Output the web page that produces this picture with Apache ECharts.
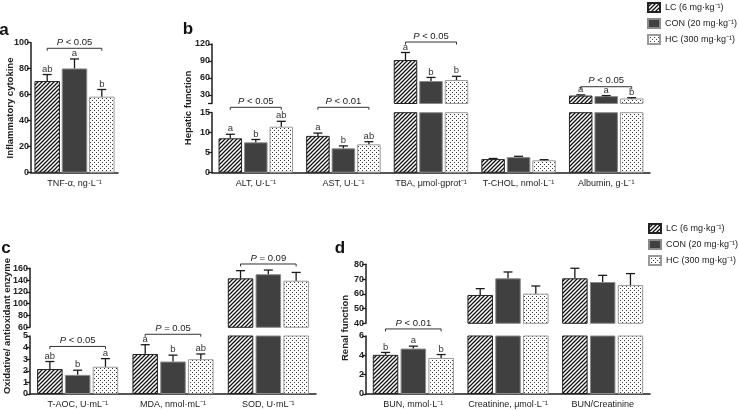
<!DOCTYPE html>
<html><head><meta charset="utf-8">
<script src="https://cdn.jsdelivr.net/npm/echarts@6/dist/echarts.min.js"></script>
<style>html,body{margin:0;padding:0;background:#fff}#c{width:739px;height:411px}</style>
</head><body><div id="c"></div>
<script>
// ---------------- DATA ----------------
const groupNames = ['LC (6 mg·kg⁻¹)', 'CON (20 mg·kg⁻¹)', 'HC (300 mg·kg⁻¹)'];

// Panel a – Inflammatory cytokine
const catsA = ['TNF-α, ng·L⁻¹'];
const lcA = [70.5], conA = [80.2], hcA = [58.5];
const lcSdA = [5.0], conSdA = [7.3], hcSdA = [5.5];
const lcLetA = ['ab'], conLetA = ['a'], hcLetA = ['b'];
const bracketsA = [{cat: 0, y: 95.7, seg: 'lower', text: 'P < 0.05'}];

// Panel b – Hepatic function
const catsB = ['ALT, U·L⁻¹', 'AST, U·L⁻¹', 'TBA, μmol·gprot⁻¹', 'T-CHOL, nmol·L⁻¹', 'Albumin, g·L⁻¹'];
const lcB = [8.6, 9.2, 91.7, 3.4, 29.0];
const conB = [7.6, 6.1, 54.7, 3.9, 28.0];
const hcB = [11.5, 7.1, 56.5, 3.1, 24.0];
const lcSdB = [1.0, 0.7, 13.3, 0.15, 1.2];
const conSdB = [0.7, 0.6, 6.3, 0.2, 1.0];
const hcSdB = [1.35, 0.65, 6.5, 0.15, 1.2];
const lcLetB = ['a', 'a', 'a', '', 'a'];
const conLetB = ['b', 'b', 'b', '', 'a'];
const hcLetB = ['ab', 'ab', 'b', '', 'b'];
const bracketsB = [
  {cat: 0, y: 16.35, seg: 'lower', text: 'P < 0.05'},
  {cat: 1, y: 16.35, seg: 'lower', text: 'P < 0.01'},
  {cat: 2, y: 123.5, seg: 'upper', text: 'P < 0.05'},
  {cat: 4, y: 44.6, seg: 'upper', text: 'P < 0.05'}
];

// Panel c – Oxidative / antioxidant enzyme
const catsC = ['T-AOC, U·mL⁻¹', 'MDA, nmol·mL⁻¹', 'SOD, U·mL⁻¹'];
const lcC = [2.15, 3.45, 143];
const conC = [1.65, 2.8, 150];
const hcC = [2.35, 3.0, 139];
const lcSdC = [0.65, 0.8, 13];
const conSdC = [0.4, 0.55, 7];
const hcSdC = [0.7, 0.45, 14];
const lcLetC = ['ab', 'a', ''];
const conLetC = ['b', 'b', ''];
const hcLetC = ['a', 'ab', ''];
const bracketsC = [
  {cat: 0, y: 4.1, seg: 'lower', text: 'P < 0.05'},
  {cat: 1, y: 5.15, seg: 'lower', text: 'P = 0.05'},
  {cat: 2, y: 167.3, seg: 'upper', text: 'P = 0.09'}
];

// Panel d – Renal function
const catsD = ['BUN, mmol·L⁻¹', 'Creatinine, μmol·L⁻¹', 'BUN/Creatinine'];
const lcD = [4.05, 59.2, 70.5];
const conD = [4.7, 70.5, 68.0];
const hcD = [3.73, 60.1, 66.0];
const lcSdD = [0.25, 4.3, 6.8];
const conSdD = [0.25, 4.3, 4.5];
const hcSdD = [0.35, 5.2, 7.7];
const lcLetD = ['b', '', ''];
const conLetD = ['a', '', ''];
const hcLetD = ['b', '', ''];
const bracketsD = [{cat: 0, y: 6.73, seg: 'lower', text: 'P < 0.01'}];

// ---------------- STYLE / LAYOUT ----------------
const FONT = '"Liberation Sans", Arial, sans-serif';
const AX = '#1e1e1e';

function hatchCanvas() {
  const c = document.createElement('canvas'); c.width = c.height = 4;
  const g = c.getContext('2d');
  g.fillStyle = '#fff'; g.fillRect(0, 0, 4, 4);
  g.strokeStyle = '#111'; g.lineWidth = 1.25; g.beginPath();
  g.moveTo(0, 4); g.lineTo(4, 0);
  g.moveTo(-1, 1); g.lineTo(1, -1);
  g.moveTo(3, 5); g.lineTo(5, 3);
  g.stroke();
  return c;
}
function dotCanvas() {
  const c = document.createElement('canvas'); c.width = c.height = 4;
  const g = c.getContext('2d');
  g.fillStyle = '#fff'; g.fillRect(0, 0, 4, 4);
  g.fillStyle = '#3a3a3a';
  g.fillRect(0, 0, 1, 1); g.fillRect(2, 2, 1, 1);
  return c;
}
const groupStyles = [
  {color: {image: hatchCanvas(), repeat: 'repeat'}, borderColor: '#222', borderWidth: 1},
  {color: '#404040', borderColor: '#8a8a8a', borderWidth: 1},
  {color: {image: dotCanvas(), repeat: 'repeat'}, borderColor: '#9a9a9a', borderWidth: 1}
];

const panels = [
  {cats: catsA, means: [lcA, conA, hcA], sds: [lcSdA, conSdA, hcSdA], lets: [lcLetA, conLetA, hcLetA], brackets: bracketsA,
   left: 31, width: 87, lowerTop: 42.7, lowerH: 130, lower: {min: 0, max: 100, interval: 20}, upper: null, bw: 25.5, gap: 1.8},
  {cats: catsB, means: [lcB, conB, hcB], sds: [lcSdB, conSdB, hcSdB], lets: [lcLetB, conLetB, hcLetB], brackets: bracketsB,
   left: 212, width: 438, lowerTop: 112.7, lowerH: 60, lower: {min: 0, max: 15, interval: 5},
   upper: {top: 44, height: 59.5, min: 15, max: 120, labels: [30, 60, 90, 120], ticks: [15, 30, 60, 90, 120]}, bw: 23.5, gap: 2},
  {cats: catsC, means: [lcC, conC, hcC], sds: [lcSdC, conSdC, hcSdC], lets: [lcLetC, conLetC, hcLetC], brackets: bracketsC,
   left: 30, width: 286, lowerTop: 336, lowerH: 58, lower: {min: 0, max: 5, interval: 1},
   upper: {top: 268.3, height: 59, min: 60, max: 160, interval: 20}, bw: 25.5, gap: 2.3},
  {cats: catsD, means: [lcD, conD, hcD], sds: [lcSdD, conSdD, hcSdD], lets: [lcLetD, conLetD, hcLetD], brackets: bracketsD,
   left: 366, width: 284, lowerTop: 336, lowerH: 58, lower: {min: 0, max: 6, interval: 2},
   upper: {top: 264.3, height: 59, min: 40, max: 80, interval: 10}, bw: 25.5, gap: 2.3}
];

const grids = [], xAxes = [], yAxes = [], series = [];

function yAxisBase(gi) {
  return {
    gridIndex: gi, type: 'value', splitLine: {show: false},
    axisLine: {show: true, lineStyle: {color: AX, width: 1.5}},
    axisTick: {show: true, length: 4, lineStyle: {color: AX, width: 1.3}},
    axisLabel: {fontSize: 9, fontWeight: 'bold', color: '#222', fontFamily: FONT, margin: 2}
  };
}

function errSeries(gi, P, filterFn) {
  const off = P.bw + P.gap;
  const items = [];
  P.cats.forEach((_, c) => {
    for (let k = 0; k < 3; k++) {
      const m = P.means[k][c];
      if (!filterFn(m)) continue;
      items.push({c, m, t: m + P.sds[k][c], k, l: P.lets[k][c]});
    }
  });
  return {
    type: 'custom', xAxisIndex: gi, yAxisIndex: gi, clip: false, silent: true, z: 5,
    data: items.map(it => [it.c, it.m, it.t]),
    encode: {x: 0, y: [1, 2]},
    renderItem: function (params, api) {
      const it = items[params.dataIndex];
      const pm = api.coord([it.c, it.m]);
      const pt = api.coord([it.c, it.t]);
      const x = pm[0] + (it.k - 1) * off;
      const ch = [
        {type: 'line', shape: {x1: x, y1: pm[1], x2: x, y2: pt[1]}, style: {stroke: '#1a1a1a', lineWidth: 1.3}},
        {type: 'line', shape: {x1: x - 4.5, y1: pt[1], x2: x + 4.5, y2: pt[1]}, style: {stroke: '#1a1a1a', lineWidth: 1.3}}
      ];
      if (it.l) ch.push({type: 'text', style: {text: it.l, x: x, y: pt[1] - 0.5, align: 'center', verticalAlign: 'bottom', fill: '#333', font: '9.5px ' + FONT}});
      return {type: 'group', children: ch};
    }
  };
}

function bracketSeries(gi, P, segName) {
  const off = P.bw + P.gap;
  const items = P.brackets.filter(b => b.seg === segName);
  if (!items.length) return null;
  return {
    type: 'custom', xAxisIndex: gi, yAxisIndex: gi, clip: false, silent: true, z: 6,
    data: items.map(b => [b.cat, b.y]),
    renderItem: function (params, api) {
      const b = items[params.dataIndex];
      const p = api.coord([b.cat, b.y]);
      const x1 = p[0] - off, x2 = p[0] + off, y = p[1];
      const txt = b.text.replace(/^P/, '{i|P}');
      return {type: 'group', children: [
        {type: 'polyline', shape: {points: [[x1, y + 2.5], [x1, y], [x2, y], [x2, y + 2.5]]}, style: {stroke: '#333', lineWidth: 1, fill: null}},
        {type: 'text', style: {text: txt, x: p[0], y: y - 1, align: 'center', verticalAlign: 'bottom', fill: '#222', font: '9.5px ' + FONT,
          rich: {i: {fontStyle: 'italic', fontSize: 9.5, fontFamily: FONT, fill: '#222'}}}}
      ]};
    }
  };
}

panels.forEach(P => {
  const barGap = (P.gap / P.bw * 100) + '%';
  const gl = grids.length;
  grids.push({left: P.left, top: P.lowerTop, width: P.width, height: P.lowerH});
  xAxes.push({gridIndex: gl, type: 'category', data: P.cats,
    axisLine: {lineStyle: {color: AX, width: 1.5}},
    axisTick: {alignWithLabel: true, length: 3, lineStyle: {color: AX, width: 1.2}},
    axisLabel: {interval: 0, fontSize: 9, color: '#222', fontFamily: FONT, margin: 6}});
  const yl = yAxisBase(gl);
  Object.assign(yl, {min: P.lower.min, max: P.lower.max, interval: P.lower.interval});
  yAxes.push(yl);
  for (let k = 0; k < 3; k++) {
    series.push({type: 'bar', name: groupNames[k], xAxisIndex: gl, yAxisIndex: gl, data: P.means[k].slice(),
      barWidth: P.bw, barGap: barGap, itemStyle: groupStyles[k], silent: true, clip: true});
  }
  series.push(errSeries(gl, P, m => m <= P.lower.max));
  const bl = bracketSeries(gl, P, 'lower'); if (bl) series.push(bl);

  if (P.upper) {
    const gu = grids.length;
    grids.push({left: P.left, top: P.upper.top, width: P.width, height: P.upper.height});
    xAxes.push({gridIndex: gu, type: 'category', data: P.cats, show: false});
    const yu = yAxisBase(gu);
    yu.min = P.upper.min; yu.max = P.upper.max;
    if (P.upper.labels) {
      yu.axisLabel.customValues = P.upper.labels;
      yu.axisTick.customValues = P.upper.ticks;
    } else {
      yu.interval = P.upper.interval;
    }
    yAxes.push(yu);
    for (let k = 0; k < 3; k++) {
      series.push({type: 'bar', name: groupNames[k], xAxisIndex: gu, yAxisIndex: gu,
        data: P.means[k].map(v => v > P.lower.max ? v : '-'),
        barWidth: P.bw, barGap: barGap, itemStyle: groupStyles[k], silent: true, clip: true});
    }
    series.push(errSeries(gu, P, m => m > P.lower.max));
    const bu = bracketSeries(gu, P, 'upper'); if (bu) series.push(bu);
  }
});

const legendBase = {orient: 'vertical', itemWidth: 12, itemHeight: 9, itemGap: 5, icon: 'rect', padding: 0,
  textStyle: {fontSize: 9, color: '#222', fontFamily: FONT}, data: groupNames, selectedMode: false};

const titleFont = 'bold 9.5px ' + FONT;
const letterFont = 'bold 17px ' + FONT;
const option = {
  animation: false,
  backgroundColor: '#fff',
  grid: grids, xAxis: xAxes, yAxis: yAxes, series: series,
  legend: [
    Object.assign({}, legendBase, {left: 647, top: 2}),
    Object.assign({}, legendBase, {left: 648, top: 223})
  ],
  graphic: [
    {type: 'text', x: 4, y: 30, style: {text: 'a', font: letterFont, fill: '#111', align: 'center', verticalAlign: 'middle'}},
    {type: 'text', x: 188, y: 29, style: {text: 'b', font: letterFont, fill: '#111', align: 'center', verticalAlign: 'middle'}},
    {type: 'text', x: 6, y: 248, style: {text: 'c', font: letterFont, fill: '#111', align: 'center', verticalAlign: 'middle'}},
    {type: 'text', x: 340, y: 248, style: {text: 'd', font: letterFont, fill: '#111', align: 'center', verticalAlign: 'middle'}},
    {type: 'text', x: 10, y: 108, rotation: Math.PI / 2, style: {text: 'Inflammatory cytokine', font: titleFont, fill: '#222', align: 'center', verticalAlign: 'middle'}},
    {type: 'text', x: 188, y: 108, rotation: Math.PI / 2, style: {text: 'Hepatic function', font: titleFont, fill: '#222', align: 'center', verticalAlign: 'middle'}},
    {type: 'text', x: 7, y: 326, rotation: Math.PI / 2, style: {text: 'Oxidative/ antioxidant enzyme', font: titleFont, fill: '#222', align: 'center', verticalAlign: 'middle'}},
    {type: 'text', x: 345, y: 328, rotation: Math.PI / 2, style: {text: 'Renal function', font: titleFont, fill: '#222', align: 'center', verticalAlign: 'middle'}}
  ]
};

const chart = echarts.init(document.getElementById('c'), null, {renderer: 'canvas'});
chart.setOption(option);
</script></body></html>
